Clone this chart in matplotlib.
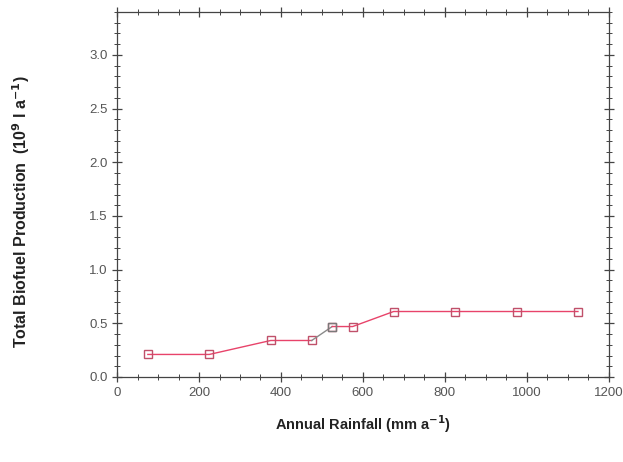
import matplotlib
matplotlib.use("Agg")
import matplotlib.pyplot as plt
from matplotlib.ticker import MultipleLocator, FormatStrFormatter

plt.rcParams['font.family'] = ['Liberation Sans', 'DejaVu Sans']

rainfall = [75, 225, 375, 475, 525, 575, 675, 825, 975, 1125]
production = [0.21, 0.21, 0.34, 0.34, 0.47, 0.47, 0.61, 0.61, 0.61, 0.61]

fig = plt.figure(figsize=(6.23, 4.62), dpi=100)
ax = fig.add_axes([0.188, 0.184, 0.789, 0.790])

line_color = '#e8436a'
ax.plot(rainfall[:4], production[:4], color=line_color, lw=1.0,
        marker='s', ms=6, mfc='none', mec='#c0506a', mew=1.0)
ax.plot(rainfall[3:5], production[3:5], color='#8a8a8a', lw=1.0)
ax.plot(rainfall[4:], production[4:], color=line_color, lw=1.0,
        marker='s', ms=6, mfc='none', mec='#c0506a', mew=1.0)
ax.plot(rainfall[4:5], production[4:5], ls='none', marker='s', ms=6,
        mfc='none', mec='#7a7a7a', mew=1.0)

ax.set_xlim(0, 1200)
ax.set_ylim(0, 3.4)
ax.xaxis.set_major_locator(MultipleLocator(200))
ax.xaxis.set_minor_locator(MultipleLocator(50))
ax.yaxis.set_major_locator(MultipleLocator(0.5))
ax.yaxis.set_minor_locator(MultipleLocator(0.1))
ax.yaxis.set_major_formatter(FormatStrFormatter('%.1f'))

ax.tick_params(which='both', direction='inout', top=True, right=True,
               colors='#444444', labelcolor='#555555', labelsize=9.5)
ax.tick_params(which='major', length=7, width=0.9)
ax.tick_params(which='minor', length=4, width=0.7)
for s in ax.spines.values():
    s.set_color('#444444')
    s.set_linewidth(0.9)

ax.set_xlabel(r'Annual Rainfall (mm a$^{\mathbf{-1}}$)', fontsize=10.5,
              fontweight='bold', color='#222222')
ax.xaxis.set_label_coords(0.5, -0.10)
ax.set_ylabel(r'Total Biofuel Production  (10$^{\mathbf{9}}$ l a$^{\mathbf{-1}}$)',
              fontsize=11.5, fontweight='bold', color='#222222')
ax.yaxis.set_label_coords(-0.173, 0.452)

fig.savefig('out.png', dpi=100)
